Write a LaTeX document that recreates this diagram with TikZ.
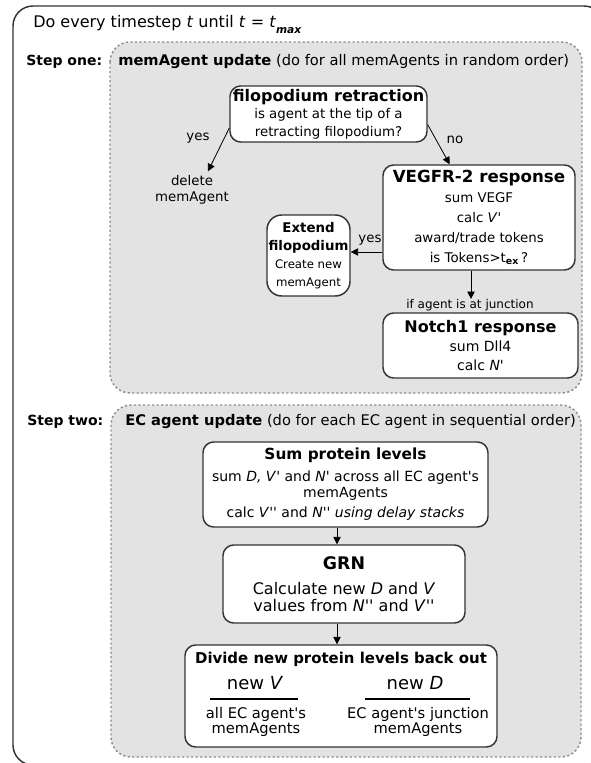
\documentclass[tikz,border=0pt]{standalone}
\usepackage{fontspec}
\setmainfont{DejaVu Sans}
\usetikzlibrary{arrows.meta}
\newcommand{\fsz}[2]{\fontsize{#1}{#2}\selectfont}
\newcommand{\pr}{\textquotesingle}

\tikzset{
  box/.style={draw=black!80, line width=1.1pt, fill=white, rounded corners=8pt, align=center, inner sep=0pt},
  stage/.style={draw=black!45, fill=black!11, line width=1.1pt, dash pattern=on 1.6pt off 1.8pt, rounded corners=15pt},
  arr/.style={-{Triangle[length=5.5pt,width=5.5pt]}, line width=0.6pt},
  lbl/.style={inner sep=0pt, align=center, font=\fsz{10}{12}},
}

\begin{document}
\begin{tikzpicture}[x=0.75pt,y=-0.75pt]
\useasboundingbox (0,0) rectangle (590,763);
% outer loop
\draw[draw=black!80, line width=1.1pt, rounded corners=15pt] (13,6) rectangle (604,765);
\node[anchor=west, inner sep=0pt, font=\fsz{12}{14}] (loop) at (33,24) {Do every timestep \textit{t} until \textit{t} = \textit{t}\raisebox{-4.5pt}{\fsz{8}{9}\bfseries\itshape max}};

% step one
\draw[stage] (110,42) rectangle (582,393);
\node[anchor=west, inner sep=0pt, font=\fsz{10.5}{12}\bfseries] (s1) at (26,62) {Step one:};
\node[anchor=west, inner sep=0pt, font=\fsz{11}{13}] (s1hd) at (118,62) {\textbf{memAgent update} (do for all memAgents in random order)};

\node[box, minimum width=147.75pt, minimum height=42pt, font=\fsz{10}{13}] (retract) at (328.5,114) {{\fsz{12}{14}\bfseries filopodium retraction}\\is agent at the tip of a\\retracting filopodium?};
\node[lbl] (del) at (192,190) {delete\\memAgent};
\node[box, minimum width=144pt, minimum height=78.75pt, font=\fsz{10}{15}] (vegfr) at (479,217.5) {{\fsz{12.5}{15}\bfseries VEGFR-2 response}\\sum VEGF\\calc \textit{V}\pr\\award/trade tokens\\is Tokens>t\textsubscript{\textbf{ex}}\,?};
\node[box, rounded corners=11pt, minimum width=62.25pt, minimum height=60.75pt, font=\fsz{8.8}{13.5}] (extend) at (308.5,255.5) {{\fsz{10}{13}\bfseries Extend}\\{\fsz{10}{13}\bfseries filopodium}\\Create new\\memAgent};
\node[lbl, font=\fsz{9}{10}] (junc) at (470,305) {if agent is at junction};
\node[box, minimum width=146.25pt, minimum height=48.75pt, font=\fsz{10.5}{14.5}] (notch) at (480.5,345.5) {{\fsz{12}{14}\bfseries Notch1 response}\\sum Dll4\\calc \textit{N}\pr};

\node[lbl] (yes1) at (198,138) {yes};
\node[lbl] (no1) at (455,140) {no};
\node[lbl] (yes2) at (370,240) {yes};

\coordinate (yl) at (0,252);
\coordinate (jx) at (471,0);
\draw[arr] ([yshift=-10.5pt]retract.west) -- ([xshift=12pt,yshift=3pt]del.north);
\draw[arr] ([yshift=-8pt]retract.east) -- ([xshift=-22pt]vegfr.north);
\draw[arr] (vegfr.west |- yl) -- (extend.east |- yl);
\draw[arr] (vegfr.south -| jx) -- (junc.north -| jx);

% step two
\draw[stage] (111,405) rectangle (581,757);
\node[anchor=west, inner sep=0pt, font=\fsz{10.5}{12}\bfseries] (s2) at (27,422) {Step two:};
\node[anchor=west, inner sep=0pt, font=\fsz{11}{13}] (s2hd) at (125,422) {\textbf{EC agent update} (do for each EC agent in sequential order)};

\node[box, minimum width=213.75pt, minimum height=63.75pt, font=\fsz{10.5}{12}] (sum) at (345.5,484.5) {{\fsz{11.5}{14}\bfseries Sum protein levels}\\[4.5pt]sum \textit{D, V}\pr{} and \textit{N}\pr{} across all EC agent\pr s\\memAgents\\[3pt]calc \textit{V}\pr\pr{} and \textit{N}\pr\pr{} \textit{using delay stacks}};
\node[box, minimum width=181.5pt, minimum height=58.5pt, font=\fsz{12}{12.75}] (grn) at (344,584) {{\fsz{13}{14}\bfseries GRN}\\[6pt]Calculate new \textit{D} and \textit{V}\\values from \textit{N}\pr\pr{} and \textit{V}\pr\pr};
\node[box, minimum width=234pt, minimum height=76.5pt] (divide) at (341,696) {};
\node[inner sep=0pt, font=\fsz{11.2}{13}\bfseries] (divhd) at (341,659) {Divide new protein levels back out};
\node[inner sep=0pt, font=\fsz{13.5}{15}] (newV) at (255,683) {new \textit{V}};
\node[inner sep=0pt, font=\fsz{13.5}{15}] (newD) at (415,683) {new \textit{D}};
\draw[line width=0.9pt] (210,699) -- (298,699);
\draw[line width=0.9pt] (365,699) -- (470,699);
\node[lbl, font=\fsz{11}{11.5}] (allEC) at (256,722) {all EC agent\pr s\\memAgents};
\node[lbl, font=\fsz{11}{11.5}] (juncEC) at (418,722) {EC agent\pr s junction\\memAgents};

\coordinate (ax) at (337,0);
\draw[arr] (sum.south -| ax) -- (grn.north -| ax);
\draw[arr] (grn.south -| ax) -- (divide.north -| ax);
\end{tikzpicture}
\end{document}
